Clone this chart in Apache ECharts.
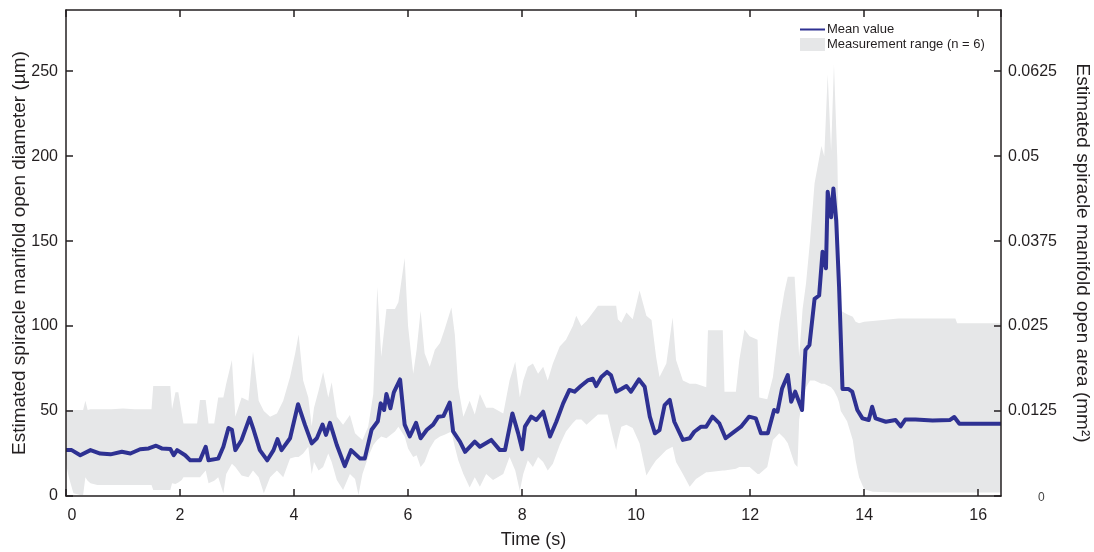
<!DOCTYPE html>
<html>
<head>
<meta charset="utf-8">
<script src="https://cdn.jsdelivr.net/npm/echarts@6/dist/echarts.min.js"></script>
<style>
  html, body { margin: 0; padding: 0; background: #fff; }
  #chart { width: 1094px; height: 552px; }
</style>
</head>
<body>
<div id="chart"></div>
<script>
// time (s) and mean diameter (um)
var meanT = [0.0,0.02,0.1,0.25,0.43,0.6,0.78,0.98,1.13,1.3,1.45,1.58,1.68,1.83,1.89,1.95,2.09,2.18,2.35,2.45,2.5,2.67,2.76,2.85,2.91,2.97,3.08,3.22,3.29,3.4,3.53,3.64,3.71,3.78,3.93,4.07,4.19,4.31,4.4,4.5,4.56,4.63,4.75,4.89,5.0,5.16,5.24,5.36,5.47,5.52,5.58,5.62,5.69,5.75,5.86,5.94,6.03,6.14,6.22,6.33,6.44,6.53,6.62,6.73,6.79,6.91,7.0,7.17,7.26,7.46,7.61,7.7,7.83,7.93,8.0,8.05,8.16,8.25,8.37,8.49,8.6,8.72,8.83,8.92,9.03,9.15,9.24,9.3,9.39,9.49,9.56,9.65,9.74,9.83,9.91,10.05,10.15,10.24,10.33,10.41,10.5,10.59,10.67,10.82,10.94,11.02,11.14,11.23,11.34,11.46,11.57,11.7,11.84,11.98,12.1,12.19,12.31,12.42,12.48,12.56,12.66,12.72,12.79,12.91,12.97,13.04,13.13,13.21,13.27,13.33,13.36,13.42,13.46,13.51,13.56,13.62,13.72,13.79,13.88,13.97,14.08,14.14,14.2,14.38,14.55,14.64,14.72,14.9,15.2,15.5,15.58,15.67,16.4];
var meanV = [27,28,27,24,27,25,24.5,26,25,27.5,28,29.6,28,27.6,24,27,24,21,21,29,21,22,29,40,39,27,33,46,39,27,21,27,33.5,27,34,54,42,31,34,42,36,43,30,17.6,27,22,22,39,44,54.5,50.6,60,51.6,61,68.6,42,35,43,34,39,42,46.7,47,55,38,32,26,32,29,33,27,27,48.6,37,27.5,40.8,46.7,44.7,49.6,35,43.7,54.5,62.4,61.4,64.7,68,69,64.7,70,73,71,61.4,63,64.7,61.4,68.6,64.3,46.7,36.9,38.8,53.5,56.5,43.7,33,34,37.8,40.8,40.8,46.7,42.7,34,37.3,40.8,46.7,45.7,36.9,36.9,50.6,49.6,63.3,71.2,55.5,61.4,50.6,85.9,88.8,116,118,143.7,134,179,164,181,162,123,63,63,61.4,50.6,45.7,44.7,52.5,45.7,43.7,44.7,41,45,45,44.5,44.7,46.5,42.5,42.5];

// measurement range (n = 6): lower and upper bounds
var bandT = [0.0,0.05,0.13,0.25,0.3,0.34,0.38,0.43,0.55,0.8,1.0,1.2,1.5,1.53,1.83,1.86,1.92,1.97,2.03,2.06,2.3,2.35,2.45,2.5,2.6,2.67,2.76,2.81,2.91,2.97,3.08,3.2,3.28,3.38,3.47,3.58,3.7,3.81,3.93,4.02,4.08,4.16,4.25,4.31,4.35,4.43,4.51,4.6,4.66,4.75,4.86,4.98,5.07,5.13,5.2,5.3,5.39,5.46,5.53,5.62,5.77,5.83,5.94,6.0,6.09,6.15,6.22,6.29,6.38,6.47,6.56,6.64,6.76,6.82,6.88,6.97,7.08,7.17,7.26,7.37,7.49,7.67,7.78,7.88,7.96,8.02,8.1,8.19,8.28,8.37,8.45,8.54,8.66,8.77,8.89,8.95,9.04,9.13,9.33,9.5,9.59,9.65,9.68,9.74,9.83,9.94,10.06,10.18,10.27,10.35,10.41,10.53,10.64,10.7,10.82,10.94,11.05,11.23,11.26,11.52,11.55,11.75,11.81,11.9,11.99,12.13,12.16,12.3,12.4,12.51,12.6,12.66,12.78,12.83,12.86,12.92,12.98,13.05,13.13,13.25,13.3,13.36,13.42,13.47,13.53,13.56,13.59,13.7,13.8,13.85,13.91,14.0,14.15,14.6,15.6,15.63,16.4];
var bandLow = [19,11,1.6,0.6,0.6,11,9,7.5,6.5,6.5,6.5,6.5,6.5,3.5,3.5,7.5,7,8,9.4,11,11,11,15,7.5,9,11,1.6,13,19,17,12,11,15,11,1.6,11,15,11,22,23,23,25,29,13,20,15,17,25,20,9.4,3.5,13,10,0.6,13,23,30,33,35,34,38,40.8,35,28,23,24,17,20,28,33,35,36,38,29,21,13,5,11,5.5,13,9.4,13,23,15,3,13,21,17,23,20,15,19,30,38,43,45,45,42,48,48,35,27,33,40.8,42,40,31,12,17,21,23,27,29,20,13,5.5,10,14,14,15,15,16,17,17,17,13,13,17,33,37,34,31,19,17,45,58,64,68,68,66,66,65,64,62,58,55,50,44,33,21,11,4,2.5,2,2,2,2];
var bandHigh = [50.6,50.6,50.6,50.6,50.6,56,50.6,51,51,51,51.5,51,51,64.7,64.7,51,61,61,48.6,42.7,42.7,56.5,56.5,42.7,42.7,58,58,66,80,46.7,58,56,85,56,50,46.7,48.6,56,70,84,95,68,58,41,52,62,73,58,67,46.7,42,47.6,37,35,33,40.8,60,123,82,110,110,114,140,100,72,86,109,84,76,86,90,98,111,95,64,46.7,56,48,60,52,52,48.6,68,79,58,68,76,78,72,76,68,78,88,92,100,106,100,103,112,112,112,112,104,102,108,104,121,106,103.5,82,70,78,105,80,68,66,66,64,97.6,97.6,61.4,61.4,80,98,94,92,58,57,70,101.6,120,129,129,100,82,110,125,150,184,206,200,248,203,254,197,140,109,107,105.5,102.5,101.6,102.5,103,104.5,104.5,101.6,101.6];

// axis ticks
var xTicks = [0, 16.4, 2];
var leftTicks = [0, 286, 50];
var areaFactor = 0.00025; // mm^2 per um on the right axis

var meanData = [];
for (var i = 0; i < meanT.length; i++) {
  meanData.push([meanT[i], meanV[i]]);
}

var fontName = 'Liberation Sans';
var ink = '#231f20';
var blue = '#2e3192';
var grey = '#e6e7e8';

// band polygon: upper edge forwards, lower edge backwards
function renderBand(params, api) {
  var pts = [];
  for (var j = 0; j < bandT.length; j++) {
    pts.push(api.coord([bandT[j], bandHigh[j]]));
  }
  for (var k = bandT.length - 1; k >= 0; k--) {
    pts.push(api.coord([bandT[k], bandLow[k]]));
  }
  return {
    type: 'polygon',
    shape: { points: pts },
    style: { fill: grey, stroke: null }
  };
}

// thin line icon for the legend (tiny corner dots keep the 25x13 box)
var lineIcon = 'path://M0,0h0.01v0.01h-0.01z M0,5.5h25v2h-25z M24.99,13h0.01v-0.01h-0.01z';

var myChart = echarts.init(document.getElementById('chart'));
var option = {
  animation: false,
  textStyle: { fontFamily: fontName },
  grid: { left: 66, right: 93, top: 10, bottom: 56, containLabel: false, outerBoundsMode: 'none' },
  legend: {
    left: 795,
    top: 18,
    orient: 'vertical',
    itemGap: 2,
    itemWidth: 25,
    itemHeight: 13,
    textStyle: { fontFamily: fontName, fontSize: 13, color: ink, padding: [0, 0, 0, -3] },
    data: [
      { name: 'Mean value', icon: lineIcon, itemStyle: { color: blue } },
      { name: 'Measurement range (n = 6)', icon: 'rect', itemStyle: { color: grey } }
    ]
  },
  xAxis: [
    {
      type: 'value',
      min: xTicks[0], max: xTicks[1], interval: xTicks[2],
      name: 'Time (s)',
      nameLocation: 'middle',
      nameGap: 35,
      nameMoveOverlap: false,
      nameTextStyle: { fontFamily: fontName, fontSize: 18, color: ink },
      axisLine: { show: true, onZero: false, lineStyle: { color: ink, width: 1.5 } },
      axisTick: { show: true, inside: true, length: 7, lineStyle: { color: ink, width: 1.5 } },
      axisLabel: {
        showMaxLabel: false, margin: 12, fontSize: 16, color: ink, fontFamily: fontName,
        formatter: function (v) {
          if (v === 0) return '{a|0}';
          return String(v);
        },
        rich: { a: { fontSize: 16, color: ink, fontFamily: fontName, padding: [0, 0, 0, 12] } }
      },
      splitLine: { show: false },
      z: 10
    },
    {
      type: 'value',
      position: 'top',
      min: xTicks[0], max: xTicks[1], interval: xTicks[2],
      axisLine: { show: true, onZero: false, lineStyle: { color: ink, width: 1.5 } },
      axisTick: { show: true, inside: true, length: 7, lineStyle: { color: ink, width: 1.5 } },
      axisLabel: { show: false },
      splitLine: { show: false },
      z: 10
    }
  ],
  yAxis: [
    {
      type: 'value',
      position: 'left',
      min: leftTicks[0], max: leftTicks[1], interval: leftTicks[2],
      name: 'Estimated spiracle manifold open diameter (\u00b5m)',
      nameLocation: 'middle',
      nameRotate: 90,
      nameGap: 37,
      nameMoveOverlap: false,
      nameTextStyle: { fontFamily: fontName, fontSize: 19, color: ink },
      axisLine: { show: true, onZero: false, lineStyle: { color: ink, width: 1.5 } },
      axisTick: { show: true, inside: true, length: 7, lineStyle: { color: ink, width: 1.5 } },
      axisLabel: { showMaxLabel: false, margin: 8, fontSize: 16, color: ink, fontFamily: fontName },
      splitLine: { show: false },
      z: 10
    },
    {
      type: 'value',
      position: 'right',
      min: 0, max: leftTicks[1] * areaFactor, interval: leftTicks[2] * areaFactor,
      name: 'Estimated spiracle manifold open area (mm\u00b2)',
      nameLocation: 'middle',
      nameRotate: -90,
      nameGap: 72,
      nameMoveOverlap: false,
      nameTextStyle: { fontFamily: fontName, fontSize: 19, color: ink },
      axisLine: { show: true, onZero: false, lineStyle: { color: ink, width: 1.5 } },
      axisTick: { show: true, inside: true, length: 7, lineStyle: { color: ink, width: 1.5 } },
      axisLabel: {
        showMaxLabel: false, margin: 7, fontSize: 16, color: ink, fontFamily: fontName,
        formatter: function (v) {
          if (v === 0) return '{z|0}';
          return String(+v.toFixed(4));
        },
        rich: { z: { fontSize: 12, color: '#444', fontFamily: fontName, padding: [4, 0, 0, 30] } }
      },
      splitLine: { show: false },
      z: 10
    }
  ],
  series: [
    {
      name: 'Measurement range (n = 6)',
      type: 'custom',
      coordinateSystem: 'cartesian2d',
      data: [[bandT[0], bandLow[0]]],
      renderItem: renderBand,
      itemStyle: { color: grey },
      silent: true,
      z: 1
    },
    {
      name: 'Mean value',
      type: 'line',
      data: meanData,
      symbol: 'none',
      lineStyle: { color: blue, width: 4, join: 'round' },
      itemStyle: { color: blue },
      z: 3
    }
  ]
};
myChart.setOption(option);
</script>
</body>
</html>
